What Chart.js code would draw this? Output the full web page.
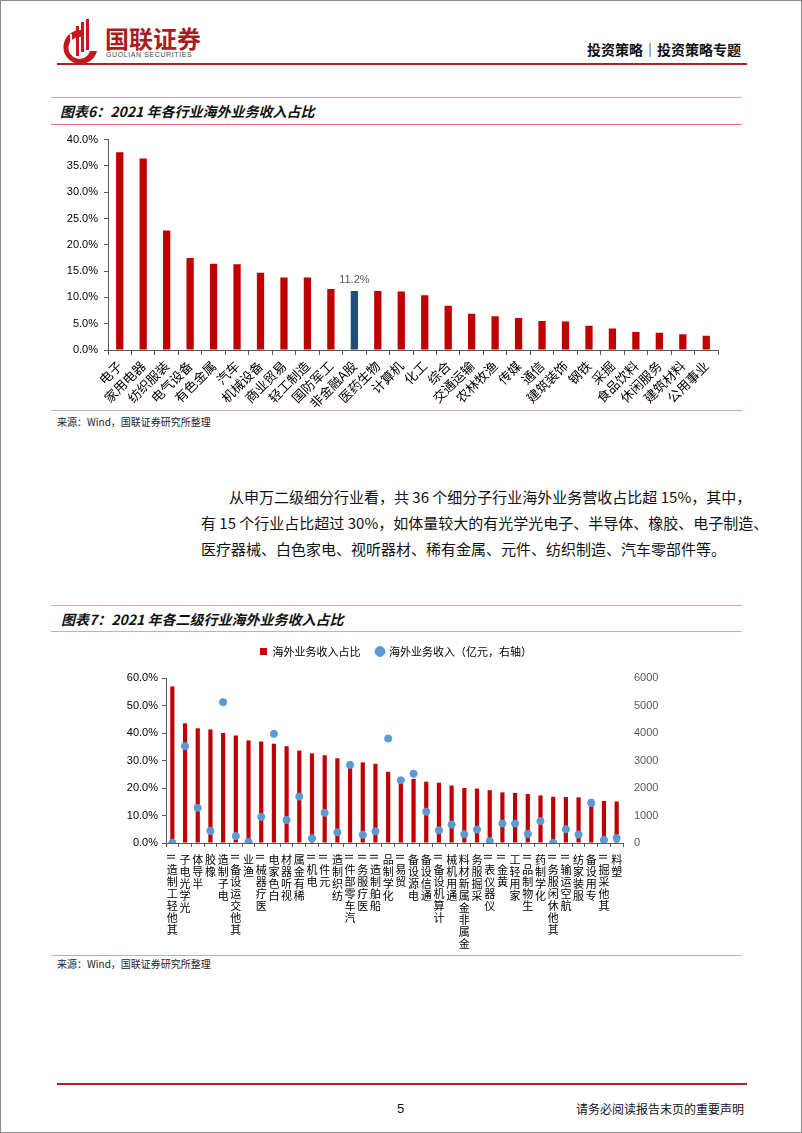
<!DOCTYPE html>
<html><head><meta charset="utf-8">
<script src="https://cdn.jsdelivr.net/npm/chart.js@4.4.0/dist/chart.umd.min.js"></script>
<style>
html,body{margin:0;padding:0;background:#fff;}
#page{position:relative;width:802px;height:1133px;box-sizing:border-box;border:1px solid #8c8c8c;overflow:hidden;font-family:"Noto Sans CJK SC","Noto Sans",sans-serif;color:#111;}
.a{position:absolute;white-space:nowrap;}
.ln{position:absolute;height:0;}
canvas{position:absolute;}
</style></head><body>
<div id="page">
  <svg class="a" style="left:58px;top:17px" width="42" height="46" viewBox="0 0 42 46">
    <path d="M22 12 A17 17 0 1 0 38 33 L31 33 A11 11 0 1 1 22 19 Z" fill="#C8161D"/>
    <rect x="17" y="8" width="3" height="30" fill="#C8161D"/>
    <rect x="22" y="4" width="3" height="30" fill="#C8161D"/>
    <rect x="27" y="1" width="3" height="31" fill="#C8161D"/>
    <rect x="11" y="16" width="2" height="20" fill="#fff"/>
  </svg>
  <div class="a" style="left:104px;top:22px;font-size:24px;font-weight:700;color:#A81C22;line-height:30px">国联证券</div>
  <div class="a" style="left:105px;top:50px;font-size:7px;color:#444;letter-spacing:0.6px;font-family:'Liberation Sans',sans-serif">GUOLIAN SECURITIES</div>
  <div class="a" style="right:60px;top:38px;font-size:14px;font-weight:700;line-height:20px">投资策略｜投资策略专题</div>
  <div class="ln" style="left:56px;top:62px;width:690px;border-top:2px solid #A8242A"></div>

  <div class="ln" style="left:50px;top:96px;width:691px;border-top:1px solid #E2A3AE"></div>
  <div class="a" style="left:59px;top:100px;font-size:14px;font-weight:700;font-style:italic;line-height:20px">图表6：2021 年各行业海外业务收入占比</div>
  <div class="ln" style="left:50px;top:123px;width:691px;border-top:1.5px solid #D46E80"></div>
  <canvas id="c1" width="700" height="284" style="left:40px;top:126px"></canvas>
  <div class="ln" style="left:50px;top:409px;width:691px;border-top:1px solid #E2A3AE"></div>
  <div class="a" style="left:56px;top:414px;font-size:10px;line-height:14px;color:#222">来源：Wind，国联证券研究所整理</div>

  <div class="a" style="left:228px;top:486px;font-size:15px;line-height:20px;color:#111">从申万二级细分行业看，共 36 个细分子行业海外业务营收占比超 15%，其中，</div>
  <div class="a" style="left:200px;top:512px;font-size:15px;line-height:20px;color:#111">有 15 个行业占比超过 30%，如体量较大的有光学光电子、半导体、橡胶、电子制造、</div>
  <div class="a" style="left:200px;top:538px;font-size:15px;line-height:20px;color:#111">医疗器械、白色家电、视听器材、稀有金属、元件、纺织制造、汽车零部件等。</div>

  <div class="ln" style="left:50px;top:604px;width:691px;border-top:1px solid #E2A3AE"></div>
  <div class="a" style="left:60px;top:608px;font-size:14px;font-weight:700;font-style:italic;line-height:20px">图表7：2021 年各二级行业海外业务收入占比</div>
  <div class="ln" style="left:50px;top:630px;width:691px;border-top:1px solid #E2A3AE"></div>
  <canvas id="c2" width="710" height="329" style="left:40px;top:625px"></canvas>
  <div class="ln" style="left:50px;top:954px;width:691px;border-top:1px solid #E2A3AE"></div>
  <div class="a" style="left:56px;top:956px;font-size:10px;line-height:14px;color:#222">来源：Wind，国联证券研究所整理</div>

  <div class="ln" style="left:56px;top:1082px;width:690px;border-top:2px solid #A8242A"></div>
  <div class="a" style="left:396px;top:1099px;font-size:13px;line-height:18px;font-family:'Liberation Sans',sans-serif">5</div>
  <div class="a" style="left:575px;top:1100px;font-size:12px;line-height:16px">请务必阅读报告末页的重要声明</div>
</div>
<script>
// ---------- Chart 6 data ----------
const industries1 = ['电子','家用电器','纺织服装','电气设备','有色金属','汽车','机械设备','商业贸易','轻工制造','国防军工','非金融A股','医药生物','计算机','化工','综合','交通运输','农林牧渔','传媒','通信','建筑装饰','钢铁','采掘','食品饮料','休闲服务','建筑材料','公用事业'];
const overseasShare1 = [37.6,36.4,22.7,17.5,16.4,16.3,14.7,13.8,13.8,11.6,11.2,11.2,11.1,10.4,8.4,6.9,6.4,6.1,5.5,5.4,4.6,4.1,3.4,3.3,3.0,2.7];
const highlighted1 = '非金融A股';

// ---------- Chart 7 data ----------
const industries2 = ['其他轻工制造II','光学光电子','半导体','橡胶','电子制造','其他交运设备II','渔业','医疗器械II','白色家电','视听器材','稀有金属','电机II','元件II','纺织制造','汽车零部件II','医疗服务II','船舶制造II','化学制品','贸易II','电源设备','通信设备','计算机设备II','通用机械','金属非金属新材料','采掘服务','仪器仪表II','黄金II','家用轻工','生物制品II','化学制药','其他休闲服务II','航空运输II','服装家纺','专用设备','其他采掘II','塑料'];
const overseasShare2 = [56.9,43.5,41.7,41.3,40.0,39.1,37.3,36.9,36.1,35.2,33.6,32.6,31.9,30.8,29.6,29.3,28.8,25.9,23.9,23.3,22.3,21.9,20.9,20.0,19.8,19.2,18.4,18.2,17.8,17.3,16.8,16.7,16.6,16.0,15.3,15.1];
const overseasRevenue2 = [10,3520,1280,440,5120,250,40,950,3970,840,1690,170,1100,390,2840,300,420,3800,2280,2520,1140,460,670,320,490,70,710,710,330,800,10,500,310,1450,110,180];
const seriesNames2 = ['海外业务收入占比','海外业务收入（亿元，右轴）'];

const CJK = '"Noto Sans CJK SC"';
const RED = '#C00000', NAVY = '#1F4E79', DOT = '#5B9BD5', AX = '#595959';

const valueLabel = {
  id:'valueLabel',
  afterDatasetsDraw(chart){
    const idx = chart.data.labels.indexOf(highlighted1);
    const el = chart.getDatasetMeta(0).data[idx];
    const ctx = chart.ctx;
    ctx.save();
    ctx.font = '11px "Liberation Sans"';
    ctx.fillStyle = '#595959';
    ctx.textAlign = 'center';
    ctx.textBaseline = 'bottom';
    ctx.fillText(overseasShare1[idx].toFixed(1)+'%', el.x, el.y - 6);
    ctx.restore();
  }
};

new Chart(document.getElementById('c1'), {
  type:'bar',
  data:{
    labels: industries1,
    datasets:[{
      data: overseasShare1,
      backgroundColor: industries1.map(c => c === highlighted1 ? NAVY : RED),
      barPercentage:0.31, categoryPercentage:1
    }]
  },
  options:{
    responsive:false, animation:false, devicePixelRatio:1,
    layout:{padding:{top:4,right:23,left:0,bottom:0}},
    plugins:{legend:{display:false}, tooltip:{enabled:false}},
    scales:{
      x:{
        grid:{drawOnChartArea:false, drawTicks:true, tickLength:5, color:AX},
        border:{color:AX, width:1},
        ticks:{minRotation:45, maxRotation:45, autoSkip:false, color:'#000', padding:3, font:{family:CJK, size:13}},
        afterFit(s){ s.height = 61; }
      },
      y:{
        min:0, max:40,
        grid:{drawOnChartArea:false, tickLength:4, color:AX},
        border:{color:AX, width:1},
        ticks:{stepSize:5, color:'#000', padding:6, font:{family:'"Liberation Sans"', size:11},
               callback:v => v.toFixed(1)+'%'},
        afterFit(s){ s.width = 67; }
      }
    }
  },
  plugins:[valueLabel]
});

// vertical stacked category labels (upright CJK, read bottom-to-top like the source)
const stackedLabels = {
  id:'stackedLabels',
  afterDraw(chart){
    const xs = chart.scales.x, ctx = chart.ctx;
    ctx.save();
    ctx.fillStyle = '#000';
    ctx.textAlign = 'center';
    ctx.textBaseline = 'middle';
    chart.data.labels.forEach((lab, i) => {
      const x = xs.getPixelForValue(i);
      const tokens = lab.match(/II|./gu);
      let y = xs.top + 11;
      for (let k = tokens.length - 1; k >= 0; k--) {
        const t = tokens[k];
        if (t === 'II') {
          ctx.font = '10px "Liberation Sans"';
          const w = ctx.measureText(t).width;
          ctx.save();
          ctx.translate(x, y + w/2);
          ctx.rotate(-Math.PI/2);
          ctx.fillText(t, 0, 0);
          ctx.restore();
          y += w + 4;
        } else {
          ctx.font = '11px ' + CJK;
          ctx.fillText(t, x, y + 6);
          y += 12;
        }
      }
    });
    ctx.restore();
  }
};
const legendGap = {
  id:'legendGap',
  beforeInit(chart){
    const fit = chart.legend.fit;
    chart.legend.fit = function(){ fit.call(this); this.height += 11; };
  }
};

new Chart(document.getElementById('c2'), {
  data:{
    labels: industries2,
    datasets:[
      {type:'bar', label:seriesNames2[0], data:overseasShare2, yAxisID:'y', backgroundColor:RED,
       barPercentage:0.33, categoryPercentage:1, pointStyle:'rect', order:2},
      {type:'line', label:seriesNames2[1], data:overseasRevenue2, yAxisID:'y1', showLine:false,
       pointRadius:3.6, pointBackgroundColor:DOT, pointBorderColor:DOT, backgroundColor:DOT, borderColor:DOT,
       pointStyle:'circle', order:1}
    ]
  },
  options:{
    responsive:false, animation:false, devicePixelRatio:1,
    layout:{padding:{top:4,right:0,left:0,bottom:0}},
    plugins:{
      tooltip:{enabled:false},
      legend:{display:true, position:'top', align:'center',
        labels:{usePointStyle:true, boxWidth:7, boxHeight:7, padding:16, color:'#000',
                font:{family:CJK, size:11}, sort:(a,b) => a.datasetIndex - b.datasetIndex}}
    },
    scales:{
      x:{
        grid:{drawOnChartArea:false, drawTicks:true, tickLength:4, color:AX, offset:true},
        border:{color:AX, width:1},
        ticks:{display:false},
        afterFit(s){ s.height = 112; }
      },
      y:{
        position:'left', min:0, max:60,
        grid:{drawOnChartArea:false, tickLength:4, color:AX},
        border:{color:AX, width:1},
        ticks:{stepSize:10, color:'#000', padding:4, font:{family:'"Liberation Sans"', size:11},
               callback:v => v.toFixed(1)+'%'},
        afterFit(s){ s.width = 125; }
      },
      y1:{
        position:'right', min:0, max:6000,
        grid:{display:false, drawTicks:false},
        border:{display:false},
        ticks:{stepSize:1000, color:AX, padding:11, font:{family:'"Liberation Sans"', size:11},
               callback:v => String(v)},
        afterFit(s){ s.width = 128; }
      }
    }
  },
  plugins:[stackedLabels, legendGap]
});
</script>
</body></html>
